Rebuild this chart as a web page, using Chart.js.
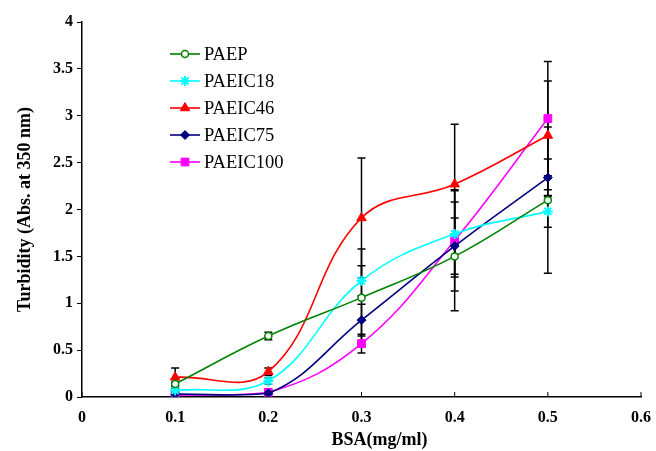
<!DOCTYPE html>
<html>
<head>
<meta charset="utf-8">
<script src="https://cdn.jsdelivr.net/npm/chart.js@4/dist/chart.umd.min.js"></script>
<style>
  html, body { margin: 0; padding: 0; background: #fff; }
  #wrap { width: 656px; height: 451px; position: relative; }
</style>
</head>
<body>
<div id="wrap"><canvas id="c"></canvas></div>
<script>
// ---- data ----
const bsa = [0.1, 0.2, 0.3, 0.4, 0.5];
const seriesNames = ['PAEP', 'PAEIC18', 'PAEIC46', 'PAEIC75', 'PAEIC100'];
const paep     = [0.14, 0.65, 1.06, 1.50, 2.10];
const paeic18  = [0.07, 0.17, 1.24, 1.74, 1.98];
const paeic46  = [0.21, 0.27, 1.91, 2.27, 2.79];
const paeic75  = [0.03, 0.04, 0.82, 1.61, 2.34];
const paeic100 = [0.02, 0.05, 0.57, 1.67, 2.97];
const errPaep     = [0.02, 0.04, 0.52, 0.58, 0.78];
const errPaeic18  = [0.02, 0.03, 0.16, 0.46, 0.17];
const errPaeic46  = [0.10, 0.04, 0.64, 0.64, 0.58];
const errPaeic75  = [0.01, 0.01, 0.17, 0.30, 0.20];
const errPaeic100 = [0.01, 0.01, 0.10, 0.54, 0.61];
const xTicks = [0, 0.1, 0.2, 0.3, 0.4, 0.5, 0.6];
const yTicks = [0, 0.5, 1, 1.5, 2, 2.5, 3, 3.5, 4];
const xTitle = 'BSA(mg/ml)';
const yTitle = 'Turbidity (Abs. at 350 nm)';

const values = [paep, paeic18, paeic46, paeic75, paeic100];
const errors = [errPaep, errPaeic18, errPaeic46, errPaeic75, errPaeic100];
const colors = ['#008000', '#00ffff', '#ff0000', '#000080', '#ff00ff'];
const styles = ['circle', 'star', 'triangle', 'rectRot', 'rect'];
const radii = [3.5, 5, 5.5, 4.5, 5.5];
const fills = ['#ffffff', '#00ffff', '#ff0000', '#000080', '#ff00ff'];
const bws = [1.5, 2, 1, 1, 1];

const FONT = "'Liberation Serif', 'Times New Roman', serif";

const datasets = seriesNames.map((name, i) => ({
  label: name,
  data: bsa.map((x, j) => ({ x: x, y: values[i][j] })),
  errors: errors[i],
  borderColor: colors[i],
  backgroundColor: fills[i],
  pointStyle: styles[i],
  pointRadius: radii[i],
  pointBorderColor: colors[i],
  pointBackgroundColor: fills[i],
  pointBorderWidth: bws[i],
  borderWidth: 1.6,
  tension: 0.4,
  fill: false
}));

const extras = {
  id: 'extras',
  beforeDatasetsDraw(chart) {
    const ctx = chart.ctx;
    const xs = chart.scales.x, ys = chart.scales.y;
    ctx.save();
    ctx.strokeStyle = '#000';
    ctx.lineWidth = 1.5;
    chart.data.datasets.forEach(ds => {
      ds.data.forEach((p, j) => {
        const e = ds.errors[j];
        const px = xs.getPixelForValue(p.x);
        const yt = ys.getPixelForValue(p.y + e);
        const yb = ys.getPixelForValue(p.y - e);
        ctx.beginPath();
        ctx.moveTo(px, yt); ctx.lineTo(px, yb);
        ctx.moveTo(px - 4, yt); ctx.lineTo(px + 4, yt);
        ctx.moveTo(px - 4, yb); ctx.lineTo(px + 4, yb);
        ctx.stroke();
      });
    });
    // inside tick marks on x axis
    ctx.lineWidth = 1;
    xTicks.forEach(v => {
      const px = xs.getPixelForValue(v);
      ctx.beginPath();
      ctx.moveTo(px, ys.bottom); ctx.lineTo(px, ys.bottom - 5);
      ctx.stroke();
    });
    ctx.restore();
  },
  afterDraw(chart) {
    const ctx = chart.ctx;
    const area = chart.chartArea;
    const lx0 = area.left + 88, lx1 = area.left + 118, tx = area.left + 122;
    ctx.save();
    chart.data.datasets.forEach((ds, i) => {
      const y = area.top + 32 + i * 27;
      ctx.strokeStyle = ds.borderColor;
      ctx.lineWidth = 1.6;
      ctx.beginPath(); ctx.moveTo(lx0, y); ctx.lineTo(lx1, y); ctx.stroke();
      ctx.strokeStyle = ds.pointBorderColor;
      ctx.fillStyle = ds.pointBackgroundColor;
      ctx.lineWidth = ds.pointBorderWidth;
      Chart.helpers.drawPoint(ctx, { pointStyle: ds.pointStyle, radius: ds.pointRadius, rotation: 0, borderWidth: ds.pointBorderWidth }, (lx0 + lx1) / 2, y);
      ctx.fillStyle = '#000';
      ctx.font = '18.5px ' + FONT;
      ctx.textAlign = 'left';
      ctx.textBaseline = 'middle';
      ctx.fillText(ds.label, tx, y + 1);
    });
    ctx.restore();
  }
};

new Chart(document.getElementById('c'), {
  type: 'line',
  data: { datasets: datasets },
  plugins: [extras],
  options: {
    responsive: true,
    maintainAspectRatio: false,
    animation: false,
    layout: { padding: { left: 0, right: 15, top: 22, bottom: 0 } },
    plugins: { legend: { display: false }, tooltip: { enabled: false } },
    scales: {
      x: {
        type: 'linear', min: 0, max: 0.6,
        afterFit(s) { s.height = 54; s.paddingLeft = 0; s.paddingRight = 0; },
        afterBuildTicks(s) { s.ticks = xTicks.map(v => ({ value: v })); },
        grid: { display: false, drawTicks: false },
        border: { display: true, color: '#000', width: 1.5 },
        ticks: {
          padding: 11, color: '#000',
          font: { family: FONT, size: 16, weight: 'bold' },
          callback: v => String(Math.round(v * 10) / 10)
        },
        title: {
          display: true, text: '        ' + xTitle, color: '#000',
          font: { family: FONT, size: 18, weight: 'bold' },
          padding: { top: 0, bottom: 0 }
        }
      },
      y: {
        min: 0, max: 4,
        afterFit(s) { s.width = 82; s.paddingTop = 0; s.paddingBottom = 0; },
        afterBuildTicks(s) { s.ticks = yTicks.map(v => ({ value: v })); },
        grid: { drawOnChartArea: false, drawTicks: true, tickLength: 5, color: '#000', lineWidth: 1 },
        border: { display: true, color: '#000', width: 1.5 },
        ticks: {
          padding: 4, color: '#000',
          font: { family: FONT, size: 16, weight: 'bold' },
          callback: v => String(Math.round(v * 10) / 10)
        },
        title: {
          display: true, text: yTitle, color: '#000',
          font: { family: FONT, size: 18, weight: 'bold' },
          padding: { top: 15, bottom: 0 }
        }
      }
    }
  }
});
</script>
</body>
</html>
